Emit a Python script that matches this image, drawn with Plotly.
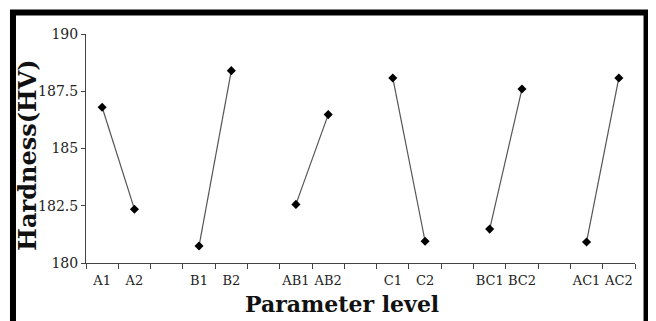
import plotly.graph_objects as go

# Category slots (blank slots separate the factor pairs)
categories = ["A1", "A2", " ", "B1", "B2", "  ", "AB1", "AB2", "   ",
              "C1", "C2", "    ", "BC1", "BC2", "     ", "AC1", "AC2"]
hardness = [186.80, 182.35, None, 180.74, 188.40, None, 182.56, 186.48, None,
            188.08, 180.95, None, 181.48, 187.60, None, 180.92, 188.08]
y_ticks = [180, 182.5, 185, 187.5, 190]
y_ticktext = ["180", "182.5", "185", "187.5", "190"]

serif = "DejaVu Serif, serif"

fig = go.Figure()
fig.add_trace(go.Scatter(
    x=categories, y=hardness, mode="lines+markers",
    connectgaps=False,
    line=dict(color="#555555", width=1.2),
    marker=dict(symbol="diamond", size=7, color="black"),
    showlegend=False,
))

fig.update_layout(
    width=656, height=321,
    margin=dict(l=78, r=29, t=26, b=66),
    paper_bgcolor="white", plot_bgcolor="white",
    font=dict(family=serif, color="#222222"),
    xaxis=dict(
        type="category", categoryorder="array", categoryarray=categories,
        range=[-0.5, 16.5], tickson="boundaries", tickangle=0,
        ticks="outside", ticklen=5, tickcolor="#444444", tickwidth=1,
        ticklabelstandoff=5,
        showline=True, linecolor="#444444", linewidth=1,
        showgrid=False, zeroline=False,
        tickfont=dict(family=serif, size=13, color="#222222"),
    ),
    yaxis=dict(
        range=[180, 190], tickvals=y_ticks, ticktext=y_ticktext,
        ticks="outside", ticklen=4, tickcolor="#444444", tickwidth=1,
        showline=True, linecolor="#444444", linewidth=1,
        showgrid=False, zeroline=False,
        tickfont=dict(family=serif, size=14, color="#222222"),
    ),
    annotations=[
        dict(text="<b>Parameter level</b>", xref="paper", yref="paper",
             x=0.466, y=-0.18, xanchor="center", yanchor="middle",
             showarrow=False, font=dict(family=serif, size=22, color="#111111")),
        dict(text="<b>Hardness(HV)</b>", xref="paper", yref="paper",
             x=-0.106, y=0.472, xanchor="center", yanchor="middle", textangle=-90,
             showarrow=False, font=dict(family=serif, size=24, color="#111111")),
    ],
    shapes=[
        dict(type="rect", xref="paper", yref="paper",
             x0=-0.133, x1=1.021, y0=-0.4, y1=1.094,
             line=dict(color="black", width=6), fillcolor="rgba(0,0,0,0)"),
    ],
)

fig.write_html("out.html")
